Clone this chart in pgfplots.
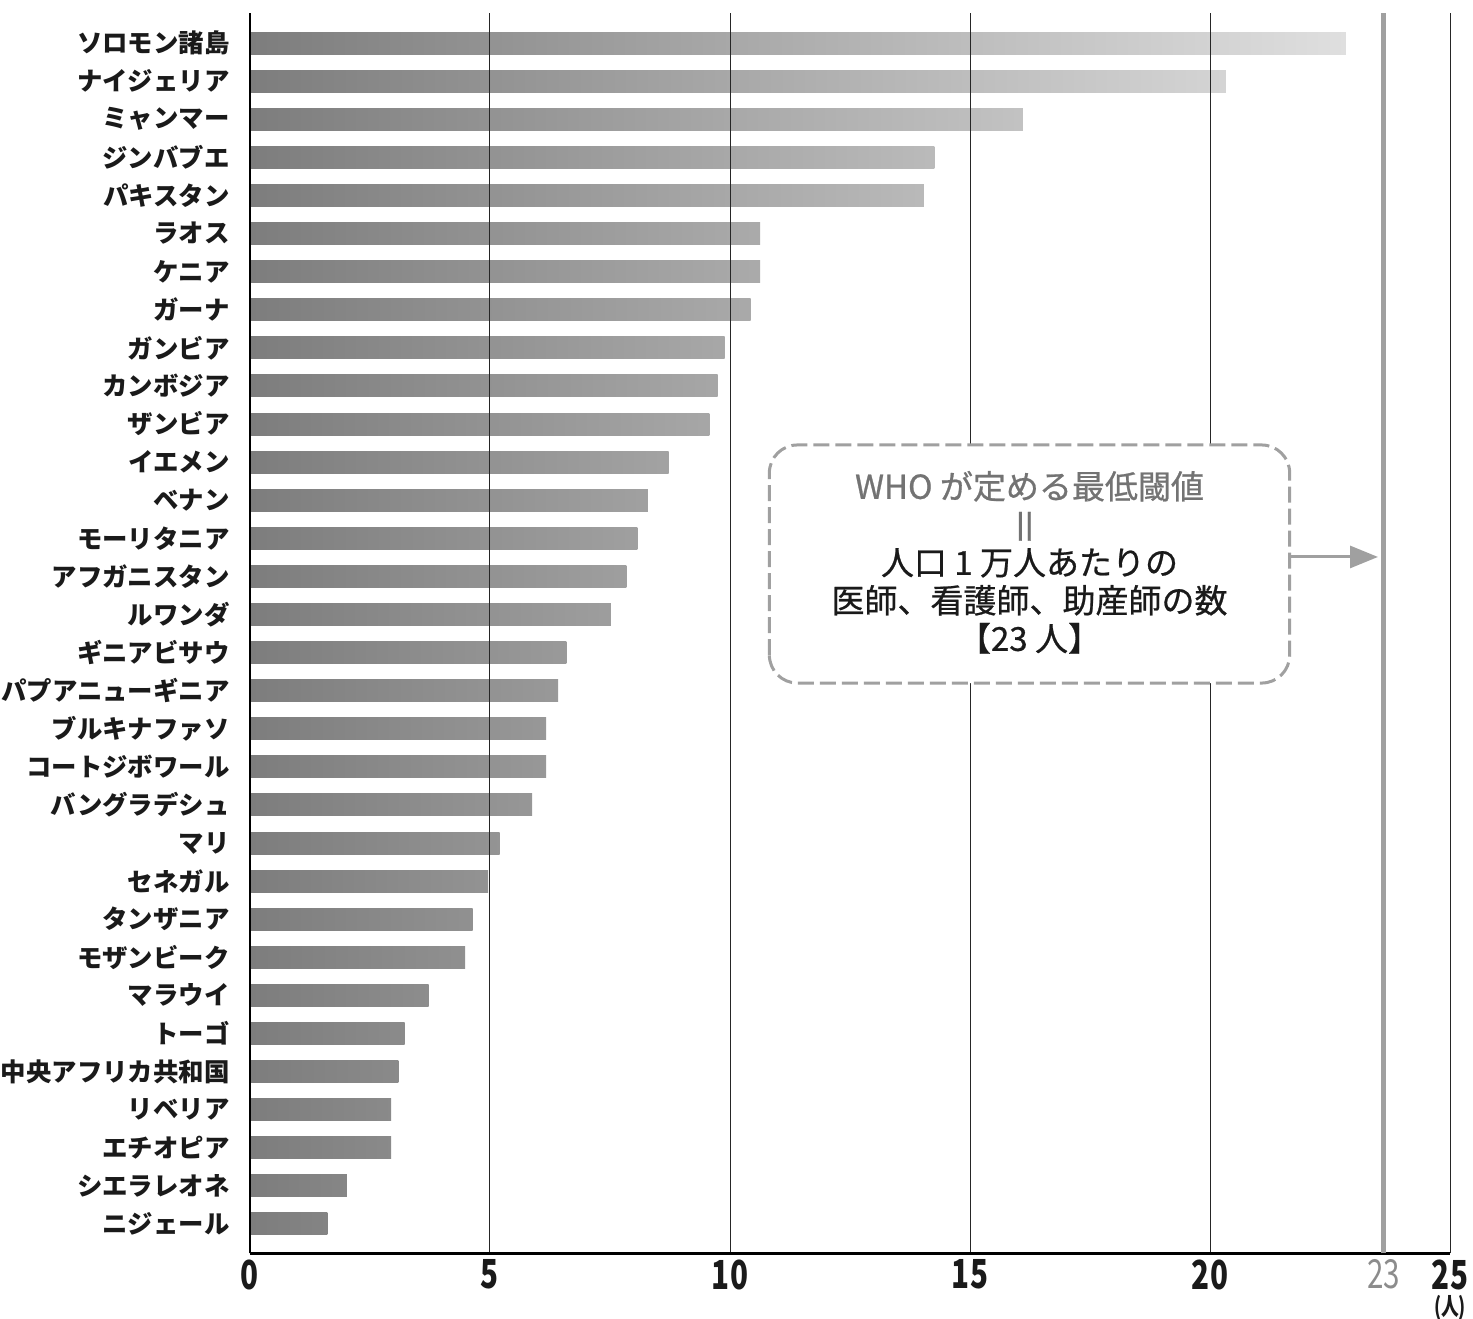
\documentclass[border=0pt]{standalone}
\usepackage{fontspec}
\setmainfont{Noto Sans CJK JP}
\newfontfamily\tnfont[FakeStretch=0.74]{Noto Sans CJK JP}
\newfontfamily\medfont[FakeBold=0.7]{Noto Sans CJK JP}
\usepackage{graphicx}
\usepackage{pgfplots}
\pgfplotsset{compat=1.18}
\usetikzlibrary{arrows.meta}
\definecolor{bd}{HTML}{7D7D7D}
\definecolor{bl}{HTML}{E0E0E0}
\definecolor{gl}{HTML}{A0A0A0}
\definecolor{txt}{HTML}{1A1A1A}
\pgfplotsset{hb/.style={xbar, bar width=11pt, bar shift=0pt, draw=none, left color=bd, right color=bl!#1!bd}}
\begin{document}
\begin{tikzpicture}
\begin{axis}[
  name=ax,
  scale only axis,
  width=600pt, height=620.15pt,
  xmin=0, xmax=25, ymin=-0.77, ymax=31.79,
  axis x line*=bottom, axis y line*=left,
  axis line style={-, black},
  x axis line style={line width=1.5pt},
  y axis line style={line width=1pt},
  axis on top,
  major tick length=0pt,
  xmajorgrids,
  grid style={line width=0.5pt, black!85},
  xtick={0,5,10,15,20,25},
  xticklabels={0,5,10,15,20,{25\\[-8pt]{\fontsize{12}{12}\selectfont(人)}}},
  xticklabel style={font=\tnfont\bfseries\fontsize{20}{21}\selectfont, text=txt, inner sep=0pt, anchor=north, yshift=-3pt, align=center},
  extra x ticks={23.62},
  extra x tick labels={23},
  extra x tick style={grid style={line width=2.5pt, color=gl}, xticklabel style={text=black!45, font=\tnfont\mdseries\fontsize{20}{21}\selectfont}},
  ytick={0,...,31},
  yticklabels={ニジェール, シエラレオネ, エチオピア, リベリア, 中央アフリカ共和国, トーゴ, マラウイ, モザンビーク, タンザニア, セネガル, マリ, バングラデシュ, コートジボワール, ブルキナファソ, パプアニューギニア, ギニアビサウ, ルワンダ, アフガニスタン, モーリタニア, ベナン, イエメン, ザンビア, カンボジア, ガンビア, ガーナ, ケニア, ラオス, パキスタン, ジンバブエ, ミャンマー, ナイジェリア, ソロモン諸島},
  yticklabel style={font=\bfseries\fontsize{12.7}{13}\selectfont, text=txt, inner sep=0pt, anchor=east, xshift=-10pt},
]
\addplot[hb=99] coordinates {(22.83,31)};
\addplot[hb=88] coordinates {(20.33,30)};
\addplot[hb=70] coordinates {(16.10,29)};
\addplot[hb=62] coordinates {(14.26,28)};
\addplot[hb=61] coordinates {(14.04,27)};
\addplot[hb=46] coordinates {(10.63,26)};
\addplot[hb=46] coordinates {(10.63,25)};
\addplot[hb=45] coordinates {(10.43,24)};
\addplot[hb=43] coordinates {(9.89,23)};
\addplot[hb=42] coordinates {(9.74,22)};
\addplot[hb=42] coordinates {(9.57,21)};
\addplot[hb=38] coordinates {(8.72,20)};
\addplot[hb=36] coordinates {(8.29,19)};
\addplot[hb=35] coordinates {(8.07,18)};
\addplot[hb=34] coordinates {(7.84,17)};
\addplot[hb=33] coordinates {(7.52,16)};
\addplot[hb=29] coordinates {(6.59,15)};
\addplot[hb=28] coordinates {(6.42,14)};
\addplot[hb=27] coordinates {(6.17,13)};
\addplot[hb=27] coordinates {(6.17,12)};
\addplot[hb=26] coordinates {(5.88,11)};
\addplot[hb=23] coordinates {(5.20,10)};
\addplot[hb=22] coordinates {(4.96,9)};
\addplot[hb=20] coordinates {(4.64,8)};
\addplot[hb=19] coordinates {(4.48,7)};
\addplot[hb=16] coordinates {(3.72,6)};
\addplot[hb=14] coordinates {(3.22,5)};
\addplot[hb=13] coordinates {(3.09,4)};
\addplot[hb=13] coordinates {(2.94,3)};
\addplot[hb=13] coordinates {(2.94,2)};
\addplot[hb=9] coordinates {(2.02,1)};
\addplot[hb=7] coordinates {(1.61,0)};
\coordinate (bsw) at (axis cs:10.82,14.20);
\coordinate (bne) at (axis cs:21.66,20.45);
\coordinate (bc) at (axis cs:16.24,17.37);
\coordinate (bE) at (axis cs:21.66,17.51);
\coordinate (aT) at (axis cs:23.50,17.51);
\end{axis}
\draw[gl, line width=1.5pt, dash pattern=on 8pt off 3pt, rounded corners=14pt, fill=white] (bsw) rectangle (bne);
\node[align=center, text=txt, font=\medfont\fontsize{16.5}{19}\selectfont] at (bc) {{\color{black!55}WHO が定める最低閾値}\\{\color{black!55}\scalebox{1.2}{\rotatebox[origin=c]{90}{＝}}}\\人口 1 万人あたりの\\医師、看護師、助産師の数\\【23 人】};
\draw[gl, line width=1.5pt, -{Triangle[length=14pt, width=11pt]}] (bE) -- (aT);
\pgfresetboundingbox
\path[use as bounding box] ([xshift=-125pt,yshift=-32.35pt]ax.south west) rectangle ([xshift=11.5pt,yshift=6.5pt]ax.north east);
\end{tikzpicture}
\end{document}
